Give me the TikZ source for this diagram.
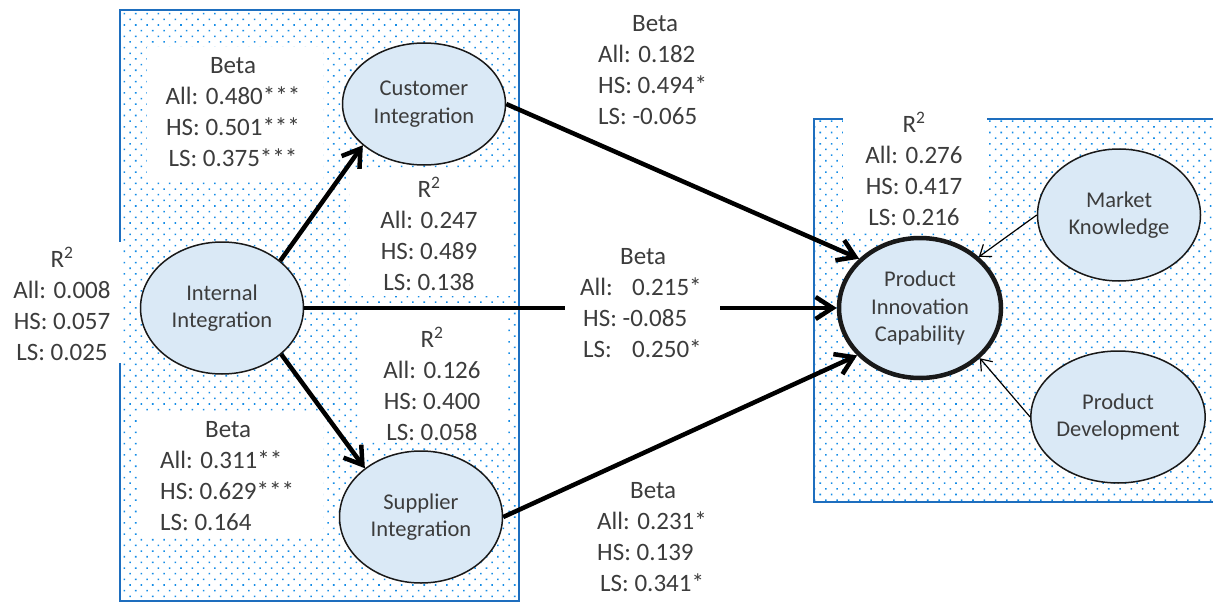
\documentclass[tikz,border=0pt]{standalone}
\usepackage{fontspec}
\setmainfont{Carlito}
\usetikzlibrary{arrows.meta,shapes.geometric,patterns.meta}
\definecolor{dotblue}{RGB}{20,140,230}
\definecolor{frameblue}{RGB}{30,110,190}
\definecolor{ellfill}{RGB}{218,233,246}
\definecolor{txt}{RGB}{60,60,60}
\begin{document}
\begin{tikzpicture}[x=1pt,y=-1pt,
  region/.style={draw=frameblue, line width=2pt, pattern={Dots[distance=8pt,radius=1.1pt,angle=45]}, pattern color=dotblue},
  blank/.style={fill=white, draw=none},
  construct/.style={ellipse, draw=black!90, line width=1.5pt, fill=ellfill, minimum width=163pt, minimum height=132pt, inner sep=0pt, align=center, text=txt, font=\fontsize{22.5}{27.5}\selectfont},
  lab/.style={text=txt, font=\fontsize{25}{31}\selectfont, inner sep=0pt},
  effect/.style={line width=4.5pt, -{Straight Barb[length=17pt,width=22pt]}},
  thinarrow/.style={line width=1.2pt, -{Straight Barb[length=10pt,width=15pt]}}
]
\useasboundingbox (0,0) rectangle (1213,602);
\clip (0,0) rectangle (1213,602);
% dotted regions
\path[region] (120,10) rectangle (519,601);
\path[region] (814,119) rectangle (1230,502);
% white label areas
\path[blank] (147,47) rectangle (323,182);
\path[blank] (350,168) rectangle (510,296);
\path[blank] (360,310) rectangle (507,442);
\path[blank] (137,413) rectangle (323,538);
\path[blank] (0,242) rectangle (121,363);
\path[blank] (843,105) rectangle (987,233);
% constructs
\node[construct] (int) at (222,308) {Internal\\Integration};
\node[construct, minimum height=122pt] (cust) at (424,104) {Customer\\Integration};
\node[construct] (sup) at (421,517) {Supplier\\Integration};
\node[construct, line width=4.5pt, minimum width=162pt, minimum height=140pt] (pic) at (920,308) {Product\\Innovation\\Capability};
\node[construct] (mk) at (1119,215) {Market\\Knowledge};
\node[construct] (pd) at (1118,417) {Product\\Development};
% paths
\draw[effect] (int.39) -- (cust.214);
\draw[effect] (int.-38) -- (sup.139);
\draw[effect] (int.east) -- (pic.west);
\draw[effect] (cust.east) -- (pic.141);
\draw[effect] (sup.east) -- (pic.217);
\draw[thinarrow] (mk.west) -- (pic.41);
\draw[thinarrow] (pd.west) -- (pic.-40);
% middle label background
\path[blank] (565,240) rectangle (720,370);
% labels
\node[lab, align=center] (b1) at (233,112) {Beta\\All: 0.480***\\HS: 0.501***\\LS: 0.375***};
\node[lab, align=center] (r1) at (429,234) {R\textsuperscript{2}\\All: 0.247\\HS: 0.489\\LS: 0.138};
\node[lab, align=center] (r2) at (432,384) {R\textsuperscript{2}\\All: 0.126\\HS: 0.400\\LS: 0.058};
\node[lab, align=left, anchor=west] (b2) at (160,476) {\hspace*{45pt}Beta\\All: 0.311**\\HS: 0.629***\\LS: 0.164};
\node[lab, align=center] (r0) at (62,304) {R\textsuperscript{2}\\All: 0.008\\HS: 0.057\\LS: 0.025};
\node[lab, align=center] (r3) at (914,169) {R\textsuperscript{2}\\All: 0.276\\HS: 0.417\\LS: 0.216};
\node[lab, align=left, anchor=west] (b3) at (598,70) {\hspace*{34pt}Beta\\All: 0.182\\HS: 0.494*\\LS: -0.065};
\node[lab, align=left, anchor=west] (b4) at (580,303) {\hspace*{40pt}Beta\\\makebox[52pt][l]{All:}0.215*\\\hspace*{3pt}HS: -0.085\\\hspace*{3pt}\makebox[49pt][l]{LS:}0.250*};
\node[lab, align=left, anchor=west] (b5) at (597,537) {\hspace*{33pt}Beta\\All: 0.231*\\HS: 0.139\\\hspace*{3pt}LS: 0.341*};
\end{tikzpicture}
\end{document}
